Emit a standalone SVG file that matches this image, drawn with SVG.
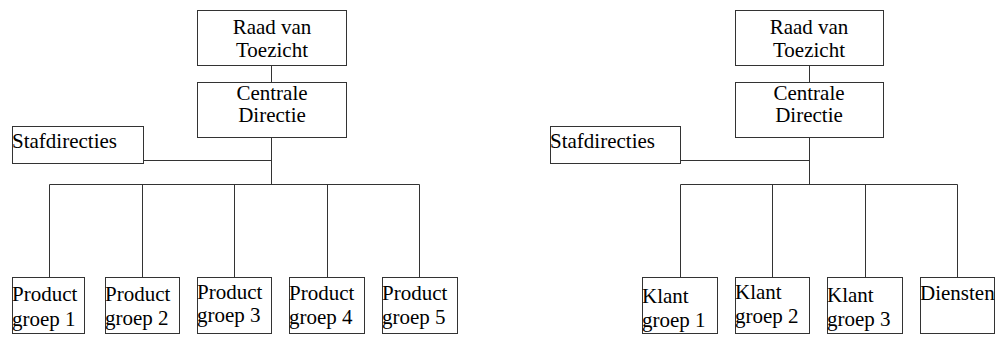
<svg xmlns="http://www.w3.org/2000/svg" width="998" height="338" viewBox="0 0 998 338">
  <style>
    .box { fill: #ffffff; stroke: #333333; stroke-width: 1; }
    .line { fill: none; stroke: #333333; stroke-width: 1; }
  </style>
  <rect width="998" height="338" fill="#ffffff"/>

  <!-- connectors, product-based organisation -->
  <g id="connectors-left">
    <path class="line" d="M271.5 65.5 V82.5"/>
    <path class="line" d="M271.5 137.5 V184.5"/>
    <path class="line" d="M143.5 160.5 H271.5"/>
    <path class="line" d="M49.5 184.5 H419.5"/>
    <path class="line" d="M49.5 184.5 V277.5 M142.5 184.5 V277.5 M234.5 184.5 V277.5 M327.5 184.5 V277.5 M419.5 184.5 V277.5"/>
  </g>

  <!-- connectors, customer-based organisation -->
  <g id="connectors-right">
    <path class="line" d="M809.5 65.5 V82.5"/>
    <path class="line" d="M809.5 137.5 V184.5"/>
    <path class="line" d="M680.5 160.5 H809.5"/>
    <path class="line" d="M680.5 184.5 H957.5"/>
    <path class="line" d="M680.5 184.5 V277.5 M772.5 184.5 V277.5 M865.5 184.5 V277.5 M957.5 184.5 V277.5"/>
  </g>

  <!-- left organisation chart -->
  <g id="raad-left">
    <rect class="box" x="197.5" y="10.5" width="149" height="55"/>
    <text x="272" y="34" text-anchor="middle" font-family="Liberation Serif, serif" font-size="21">Raad van</text>
    <text x="272" y="57" text-anchor="middle" font-family="Liberation Serif, serif" font-size="21">Toezicht</text>
  </g>
  <g id="centrale-left">
    <rect class="box" x="197.5" y="82.5" width="149" height="55"/>
    <text x="272" y="100" text-anchor="middle" font-family="Liberation Serif, serif" font-size="21">Centrale</text>
    <text x="272" y="122" text-anchor="middle" font-family="Liberation Serif, serif" font-size="21">Directie</text>
  </g>
  <g id="staf-left">
    <rect class="box" x="12.5" y="126.5" width="131" height="37"/>
    <text x="12" y="148" font-family="Liberation Serif, serif" font-size="21">Stafdirecties</text>
  </g>
  <g id="product-1">
    <rect class="box" x="12.5" y="277.5" width="72" height="56"/>
    <text x="12" y="301" font-family="Liberation Serif, serif" font-size="21">Product</text>
    <text x="12" y="326" font-family="Liberation Serif, serif" font-size="21">groep 1</text>
  </g>
  <g id="product-2">
    <rect class="box" x="105.5" y="277.5" width="74" height="56"/>
    <text x="105" y="301" font-family="Liberation Serif, serif" font-size="21">Product</text>
    <text x="105" y="325" font-family="Liberation Serif, serif" font-size="21">groep 2</text>
  </g>
  <g id="product-3">
    <rect class="box" x="197.5" y="277.5" width="74" height="56"/>
    <text x="197" y="299" font-family="Liberation Serif, serif" font-size="21">Product</text>
    <text x="197" y="322" font-family="Liberation Serif, serif" font-size="21">groep 3</text>
  </g>
  <g id="product-4">
    <rect class="box" x="289.5" y="277.5" width="75" height="56"/>
    <text x="289" y="300" font-family="Liberation Serif, serif" font-size="21">Product</text>
    <text x="289" y="324" font-family="Liberation Serif, serif" font-size="21">groep 4</text>
  </g>
  <g id="product-5">
    <rect class="box" x="382.5" y="277.5" width="75" height="56"/>
    <text x="382" y="300" font-family="Liberation Serif, serif" font-size="21">Product</text>
    <text x="382" y="324" font-family="Liberation Serif, serif" font-size="21">groep 5</text>
  </g>

  <!-- right organisation chart -->
  <g id="raad-right">
    <rect class="box" x="735.5" y="10.5" width="148" height="55"/>
    <text x="809" y="34" text-anchor="middle" font-family="Liberation Serif, serif" font-size="21">Raad van</text>
    <text x="809" y="57" text-anchor="middle" font-family="Liberation Serif, serif" font-size="21">Toezicht</text>
  </g>
  <g id="centrale-right">
    <rect class="box" x="735.5" y="82.5" width="148" height="55"/>
    <text x="809" y="100" text-anchor="middle" font-family="Liberation Serif, serif" font-size="21">Centrale</text>
    <text x="809" y="122" text-anchor="middle" font-family="Liberation Serif, serif" font-size="21">Directie</text>
  </g>
  <g id="staf-right">
    <rect class="box" x="550.5" y="126.5" width="130" height="37"/>
    <text x="550" y="148" font-family="Liberation Serif, serif" font-size="21">Stafdirecties</text>
  </g>
  <g id="klant-1">
    <rect class="box" x="642.5" y="277.5" width="75" height="56"/>
    <text x="642" y="303" font-family="Liberation Serif, serif" font-size="21">Klant</text>
    <text x="642" y="327" font-family="Liberation Serif, serif" font-size="21">groep 1</text>
  </g>
  <g id="klant-2">
    <rect class="box" x="735.5" y="277.5" width="74" height="56"/>
    <text x="735" y="299" font-family="Liberation Serif, serif" font-size="21">Klant</text>
    <text x="735" y="323" font-family="Liberation Serif, serif" font-size="21">groep 2</text>
  </g>
  <g id="klant-3">
    <rect class="box" x="827.5" y="277.5" width="75" height="56"/>
    <text x="827" y="302" font-family="Liberation Serif, serif" font-size="21">Klant</text>
    <text x="827" y="326" font-family="Liberation Serif, serif" font-size="21">groep 3</text>
  </g>
  <g id="diensten">
    <rect class="box" x="920.5" y="277.5" width="74" height="56"/>
    <text x="920" y="300" font-family="Liberation Serif, serif" font-size="21">Diensten</text>
  </g>
</svg>
